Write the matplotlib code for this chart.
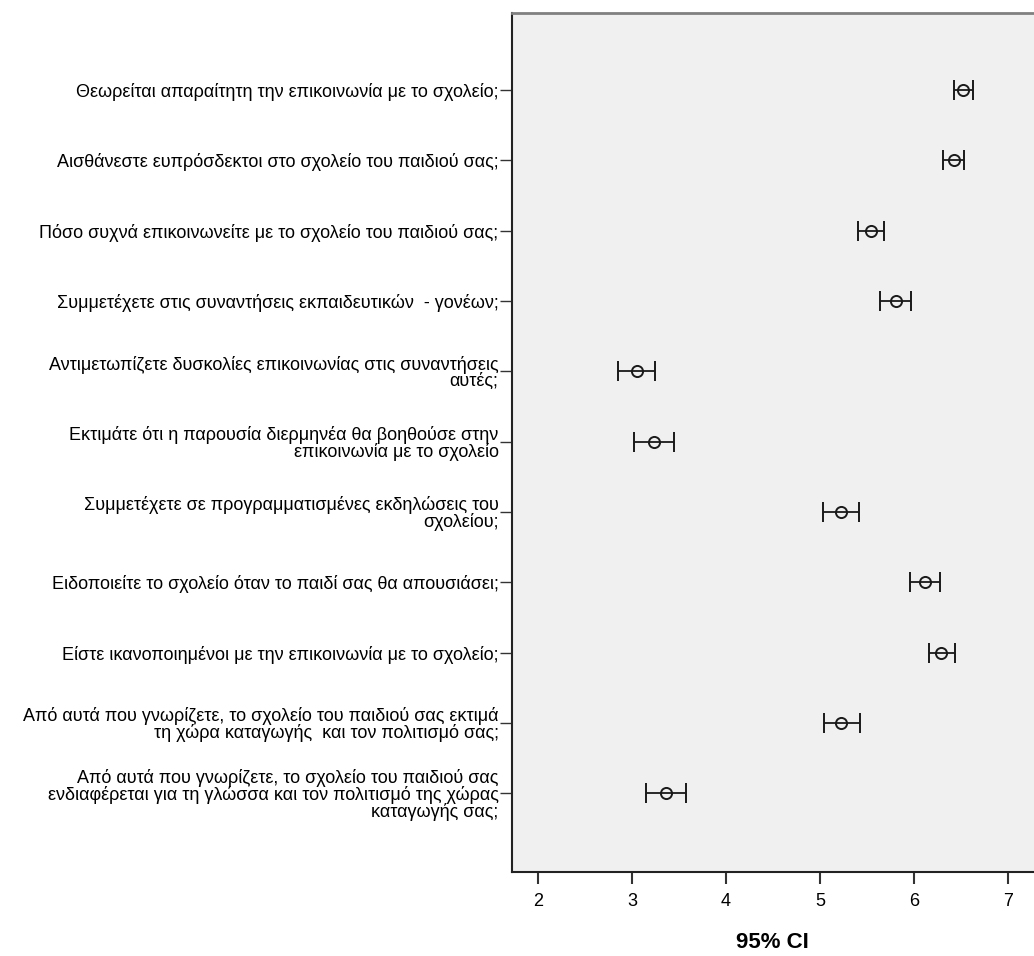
import matplotlib
matplotlib.use("Agg")
import matplotlib.pyplot as plt
import numpy as np

labels = [
    "Θεωρείται απαραίτητη την επικοινωνία με το σχολείο;",
    "Αισθάνεστε ευπρόσδεκτοι στο σχολείο του παιδιού σας;",
    "Πόσο συχνά επικοινωνείτε με το σχολείο του παιδιού σας;",
    "Συμμετέχετε στις συναντήσεις εκπαιδευτικών  - γονέων;",
    "Αντιμετωπίζετε δυσκολίες επικοινωνίας στις συναντήσεις\nαυτές;",
    "Εκτιμάτε ότι η παρουσία διερμηνέα θα βοηθούσε στην\nεπικοινωνία με το σχολείο",
    "Συμμετέχετε σε προγραμματισμένες εκδηλώσεις του\nσχολείου;",
    "Ειδοποιείτε το σχολείο όταν το παιδί σας θα απουσιάσει;",
    "Είστε ικανοποιημένοι με την επικοινωνία με το σχολείο;",
    "Από αυτά που γνωρίζετε, το σχολείο του παιδιού σας εκτιμά\nτη χώρα καταγωγής  και τον πολιτισμό σας;",
    "Από αυτά που γνωρίζετε, το σχολείο του παιδιού σας\nενδιαφέρεται για τη γλώσσα και τον πολιτισμό της χώρας\nκαταγωγής σας;",
]
means = [6.52, 6.42, 5.54, 5.81, 3.05, 3.24, 5.22, 6.11, 6.28, 5.22, 3.36]
ci_low = [6.42, 6.30, 5.40, 5.64, 2.85, 3.02, 5.03, 5.95, 6.16, 5.04, 3.15]
ci_high = [6.62, 6.53, 5.68, 5.96, 3.25, 3.45, 5.41, 6.27, 6.43, 5.42, 3.58]
xticks = [2, 3, 4, 5, 6, 7]

FONT = ["Liberation Sans", "DejaVu Sans"]
plt.rcParams["font.family"] = FONT

fig = plt.figure(figsize=(10.34, 9.56), dpi=100)
ax = fig.add_axes([0.4949, 0.0882, 0.5051, 0.8985])
ax.set_facecolor("#F0F0F0")

y = np.arange(len(labels))
m = np.array(means)
err = np.vstack([m - np.array(ci_low), np.array(ci_high) - m])
ax.errorbar(m, y, xerr=err, fmt="o", color="#1a1a1a", ecolor="#1a1a1a",
            markerfacecolor="none", markeredgecolor="#1a1a1a", markersize=8,
            markeredgewidth=1.4, elinewidth=1.3, capsize=7, capthick=1.4)

ax.set_xlim(1.724, 7.271)
ax.set_ylim(10 + 1.115, -1.10)
ax.set_yticks(y)
ax.set_yticklabels(labels, fontsize=13, linespacing=0.95, ha="right")
ax.set_xticks(xticks)
ax.set_xticklabels([str(t) for t in xticks], fontsize=13)
ax.tick_params(axis="y", length=8.5, width=1.0, pad=1, color="#333333")
ax.tick_params(axis="x", length=8.5, width=1.5, pad=7, color="#333333")
ax.set_xlabel("95% CI", fontsize=16, fontweight="bold", labelpad=16)

ax.spines["left"].set_color("#222222")
ax.spines["left"].set_linewidth(1.5)
ax.spines["bottom"].set_color("#222222")
ax.spines["bottom"].set_linewidth(1.5)
ax.spines["top"].set_color("#808080")
ax.spines["top"].set_linewidth(2.0)
ax.spines["right"].set_visible(False)

fig.savefig("out.png", dpi=100)
